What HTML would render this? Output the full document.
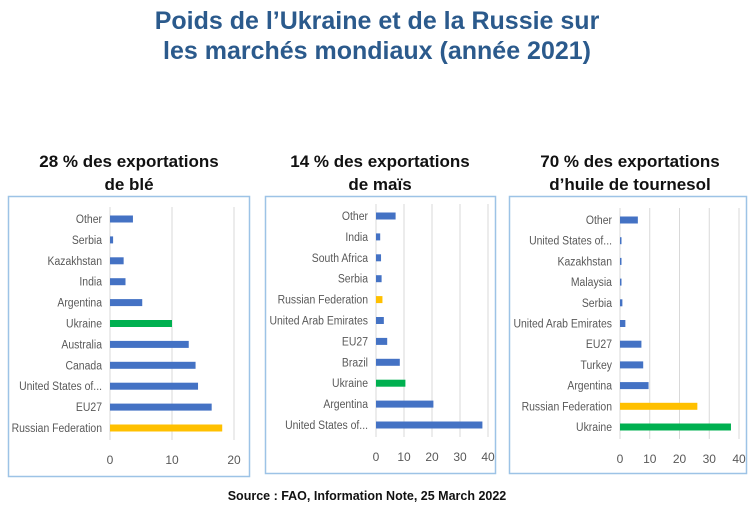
<!DOCTYPE html>
<html><head><meta charset="utf-8">
<style>
body{margin:0;background:#fff;width:754px;height:527px;overflow:hidden;font-family:"Liberation Sans",sans-serif}
svg{display:block}
</style></head>
<body>
<svg id="s" width="754" height="527">
<text x="377" y="29" text-anchor="middle" font-size="25" font-weight="bold" fill="#2b5a8c">Poids de l’Ukraine et de la Russie sur</text>
<text x="377" y="59" text-anchor="middle" font-size="25" font-weight="bold" fill="#2b5a8c">les marchés mondiaux (année 2021)</text>
<text x="129" y="167" text-anchor="middle" font-size="17" font-weight="bold" fill="#111">28 % des exportations</text>
<text x="129" y="190" text-anchor="middle" font-size="17" font-weight="bold" fill="#111">de blé</text>
<text x="380" y="167" text-anchor="middle" font-size="17" font-weight="bold" fill="#111">14 % des exportations</text>
<text x="380" y="190" text-anchor="middle" font-size="17" font-weight="bold" fill="#111">de maïs</text>
<text x="630" y="167" text-anchor="middle" font-size="17" font-weight="bold" fill="#111">70 % des exportations</text>
<text x="630" y="190" text-anchor="middle" font-size="17" font-weight="bold" fill="#111">d’huile de tournesol</text>
<text x="367" y="500" text-anchor="middle" font-size="12.5" font-weight="bold" fill="#111">Source : FAO, Information Note, 25 March 2022</text>
</svg>
<script>
const wheatCats=["Other","Serbia","Kazakhstan","India","Argentina","Ukraine","Australia","Canada","United States of...","EU27","Russian Federation"];
const wheatVals=[3.7,0.5,2.2,2.5,5.2,10,12.7,13.8,14.2,16.4,18.1];
const wheatTicks=[0,10,20];
const maizeCats=["Other","India","South Africa","Serbia","Russian Federation","United Arab Emirates","EU27","Brazil","Ukraine","Argentina","United States of..."];
const maizeVals=[7,1.5,1.8,2,2.3,2.8,4,8.5,10.5,20.5,38];
const maizeTicks=[0,10,20,30,40];
const sunCats=["Other","United States of...","Kazakhstan","Malaysia","Serbia","United Arab Emirates","EU27","Turkey","Argentina","Russian Federation","Ukraine"];
const sunVals=[6,0.5,0.5,0.5,0.8,1.8,7.2,7.8,9.6,26,37.3];
const sunTicks=[0,10,20,30,40];

const NS="http://www.w3.org/2000/svg";
const svg=document.getElementById('s');
function mk(tag,attrs,parent){const e=document.createElementNS(NS,tag);for(const k in attrs)e.setAttribute(k,attrs[k]);(parent||svg).appendChild(e);return e;}
function color(c){return c==="Ukraine"?"#00b050":(c==="Russian Federation"?"#ffc000":"#4472c4");}
function chart(name,box,x0,x1,maxV,yTop,yBot,cats,vals,ticks){
  const g=mk('g',{});
  
  
  const frame=mk('rect',{x:box[0]+.5,y:box[1]+.5,width:box[2],height:box[3],fill:'none',stroke:'#9dc3e6','stroke-width':1.5},g);
  
  
  const xs=v=>x0+(x1-x0)*v/maxV;
  const step=(yBot-yTop)/(cats.length-1);
  const ys=i=>yTop+i*step;
  ticks.forEach(t=>{
    const l=mk('line',{x1:xs(t),x2:xs(t),y1:yTop-12,y2:yBot+12,stroke:'#d9d9d9','stroke-width':1},g);
    
    
    const tx=mk('text',{x:xs(t),y:yBot+36,'text-anchor':'middle','font-size':12,fill:'#595959'},g);
    tx.textContent=t;
    
    
  });
  cats.forEach((c,i)=>{
    const lb=mk('text',{x:0,y:0,'text-anchor':'end','font-size':12,fill:'#595959',transform:'translate('+(x0-8)+','+(ys(i)+4)+') scale(0.87,1)'},g);
    lb.textContent=c;
    
    
    const b=mk('rect',{x:xs(0),y:ys(i)-3.5,width:Math.max(0,xs(vals[i])-xs(0)),height:7,fill:color(c)},g);
    
    
  });
}
chart('wheat',[8,196,241,280],110,234,20,219,428,wheatCats,wheatVals,wheatTicks);
chart('maize',[265,196,230,277],376,488,40,216,425,maizeCats,maizeVals,maizeTicks);
chart('sunflower',[509,196,237,277],620,739,40,220,427,sunCats,sunVals,sunTicks);
</script>
</body></html>
